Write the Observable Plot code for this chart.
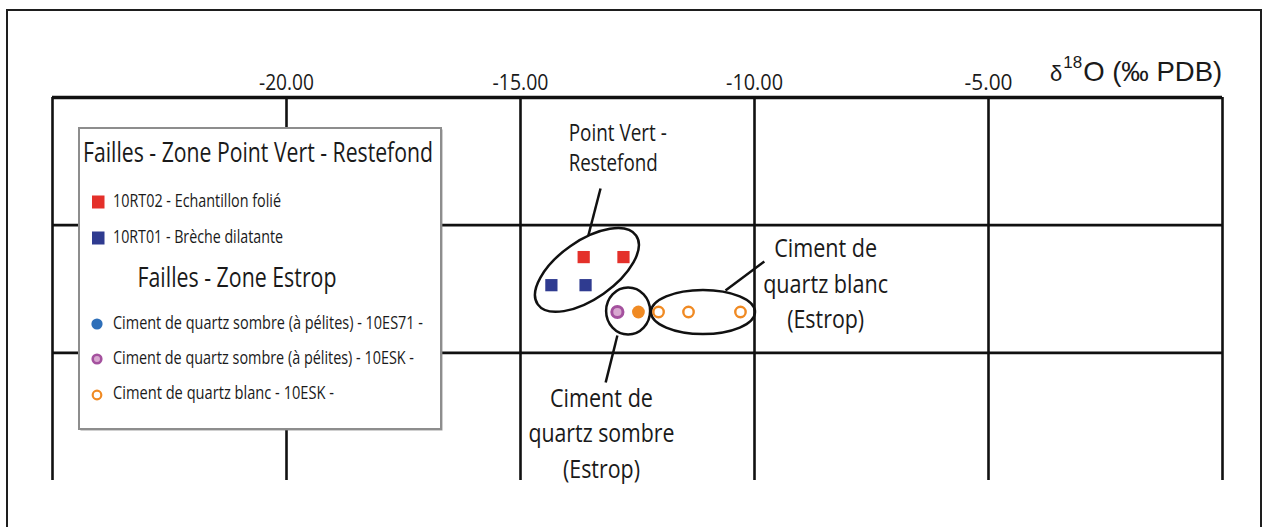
<!DOCTYPE html>
<html><head><meta charset="utf-8">
<script src="https://cdn.jsdelivr.net/npm/d3@7"></script>
<script src="https://cdn.jsdelivr.net/npm/@observablehq/plot@0.6"></script>
<style>
body{margin:0;background:#fff;}
#wrap{position:relative;width:1266px;height:527px;overflow:hidden;background:#fff;}
#frame{position:absolute;left:6px;top:9px;width:1256px;height:600px;border:2px solid #1e1e1e;box-sizing:border-box;}
#chart{position:absolute;left:0;top:0;}
#overlay{position:absolute;left:0;top:0;}
</style>
</head><body>
<div id="wrap"><div id="frame"></div><div id="chart"></div><svg id="overlay" width="1266" height="527"></svg></div>
<script>
// ---- data ----
const xTicks = [-20, -15, -10, -5];
const gridX = [-25, -20, -15, -10, -5, 0];
const gridY = [1, 2];
const sampleGroup = ["10RT02","10RT02","10RT01","10RT01","10ESK sombre","10ESK sombre (plein)","10ESK blanc","10ESK blanc","10ESK blanc"];
const d18O = [-13.65, -12.80, -14.34, -13.61, -12.93, -12.48, -12.05, -11.41, -10.30];
const yRow = [1.25, 1.25, 1.47, 1.47, 1.68, 1.68, 1.68, 1.68, 1.68];

// annotation ellipses (centre in data units, radii in px, rotation deg)
const ellCx = [-13.57, -12.69, -11.09];
const ellCy = [1.355, 1.676, 1.684];
const ellRx = [60, 22, 52];
const ellRy = [29, 23.5, 22];
const ellRot = [-35, 0, 0];
// leader lines
const leadX1 = [-13.55, -12.93, -10.62];
const leadY1 = [1.081, 1.864, 1.512];
const leadX2 = [-13.29, -13.18, -9.79];
const leadY2 = [0.713, 2.232, 1.285];
// annotation label lines
const annLines = ["Point Vert -", "Restefond", "Ciment de", "quartz sombre", "(Estrop)", "Ciment de", "quartz blanc", "(Estrop)"];
const annLineX = [-13.97, -13.97, -13.27, -13.27, -13.27, -8.48, -8.48, -8.48];
const annLineY = [0.204, 0.439, 2.287, 2.561, 2.843, 1.112, 1.394, 1.668];
const annLineAnchor = ["start", "start", "middle", "middle", "middle", "middle", "middle", "middle"];

// legend
const legendTitles = ["Failles - Zone Point Vert - Restefond", "Failles - Zone Estrop"];
const legendLabels = ["10RT02 - Echantillon folié", "10RT01 - Brèche dilatante",
  "Ciment de quartz sombre (à pélites) - 10ES71 -",
  "Ciment de quartz sombre (à pélites) - 10ESK -",
  "Ciment de quartz blanc  - 10ESK -"];
const axisLabel = ["δ", "18", "O (‰ PDB)"];

// ---- styles ----
const FONT = '"Open Sans","DejaVu Sans Condensed",sans-serif';
// target rendered widths (px) of condensed texts
const textWidth = {
  "-20.00": 55, "-15.00": 56, "-10.00": 57, "-5.00": 48,
  "Point Vert -": 98, "Restefond": 89, "Ciment de": 103, "quartz sombre": 146, "(Estrop)": 77, "quartz blanc": 125,
  "Failles - Zone Point Vert - Restefond": 350, "Failles - Zone Estrop": 199,
  "10RT02 - Echantillon folié": 168, "10RT01 - Brèche dilatante": 170,
  "Ciment de quartz sombre (à pélites) - 10ES71 -": 310,
  "Ciment de quartz sombre (à pélites) - 10ESK -": 301,
  "Ciment de quartz blanc  - 10ESK -": 221
};
const symbolOf = {"10RT02":"square","10RT01":"square","10ESK sombre":"circle","10ESK sombre (plein)":"circle","10ESK blanc":"circle"};
const fillOf = {"10RT02":"#e4302a","10RT01":"#2f3b90","10ESK sombre":"#d8a8d0","10ESK sombre (plein)":"#f08a23","10ESK blanc":"#ffffff"};
const strokeOf = {"10RT02":"none","10RT01":"none","10ESK sombre":"#a4519e","10ESK sombre (plein)":"none","10ESK blanc":"#f08a23"};
const rOf = {"10RT02":6.9,"10RT01":6.9,"10ESK sombre":5.6,"10ESK sombre (plein)":6.4,"10ESK blanc":5.2};

const pts = d18O.map((x, i) => ({x, y: yRow[i], g: sampleGroup[i]}));
const ells = ellCx.map((x, i) => ({x, y: ellCy[i], rx: ellRx[i], ry: ellRy[i], rot: ellRot[i]}));
const leads = leadX1.map((x1, i) => ({x1, y1: leadY1[i], x2: leadX2[i], y2: leadY2[i]}));
const anns = annLines.map((t, i) => ({t, x: annLineX[i], y: annLineY[i], a: annLineAnchor[i]}));

function ellipseMark(data) {
  return (index, scales) => {
    const g = d3.create("svg:g").attr("fill", "none").attr("stroke", "#111").attr("stroke-width", 2.5);
    for (const e of data) {
      const cx = scales.x(e.x), cy = scales.y(e.y);
      g.append("ellipse").attr("cx", 0).attr("cy", 0).attr("rx", e.rx).attr("ry", e.ry)
        .attr("transform", `translate(${cx},${cy}) rotate(${e.rot})`);
    }
    return g.node();
  };
}

const plot = Plot.plot({
  width: 1266, height: 527,
  marginTop: 97, marginBottom: 47, marginLeft: 52, marginRight: 44,
  x: {domain: [-25, 0]},
  y: {domain: [0, 3], reverse: true, axis: null},
  r: {type: "identity"},
  style: {fontFamily: FONT, fontSize: "22px", color: "#1a1a1a", background: "transparent", overflow: "visible"},
  marks: [
    Plot.ruleX(gridX, {stroke: "#111", strokeWidth: 2.6}),
    Plot.ruleY(gridY, {stroke: "#111", strokeWidth: 2.6}),
    Plot.ruleY([0], {stroke: "#111", strokeWidth: 3.6}),
    ellipseMark(ells),
    Plot.link(leads, {x1: "x1", y1: "y1", x2: "x2", y2: "y2", stroke: "#111", strokeWidth: 2.5}),
    Plot.dot(pts, {x: "x", y: "y", symbol: d => symbolOf[d.g], fill: d => fillOf[d.g], stroke: d => strokeOf[d.g],
      r: d => rOf[d.g], strokeWidth: d => d.g === "10ESK sombre" ? 3 : 2.4}),
    Plot.text(anns.filter(d => d.a === "start"), {x: "x", y: "y", text: "t", textAnchor: "start", lineAnchor: "top", fontSize: 24, fill: "#1a1a1a"}),
    Plot.text(anns.filter(d => d.a === "middle"), {x: "x", y: "y", text: "t", textAnchor: "middle", lineAnchor: "top", fontSize: 25, fill: "#1a1a1a"}),
    Plot.axisX(xTicks, {anchor: "top", tickSize: 0, tickPadding: 8, tickFormat: d => d.toFixed(2), label: null, fontSize: 22.5})
  ]
});
document.getElementById("chart").appendChild(plot);

function fit(sel) {
  sel.each(function () {
    const t = this.textContent;
    if (textWidth[t] != null) {
      this.setAttribute("textLength", textWidth[t]);
      this.setAttribute("lengthAdjust", "spacingAndGlyphs");
    }
  });
}
fit(d3.select(plot).selectAll("text"));

// ---- overlay: legend box + axis title ----
const ov = d3.select("#overlay");
const lg = ov.append("g").style("font-family", FONT).attr("fill", "#1a1a1a");
lg.append("rect").attr("x", 80.5).attr("y", 129.5).attr("width", 362).attr("height", 301).attr("fill", "#8a8a8a").attr("opacity", 0.8);
lg.append("rect").attr("x", 79).attr("y", 128).attr("width", 362).attr("height", 301).attr("fill", "#fff").attr("stroke", "#8d8d8d").attr("stroke-width", 2);
lg.append("text").attr("x", 258).attr("y", 162).attr("text-anchor", "middle").attr("font-size", 27.5).text(legendTitles[0]);
lg.append("text").attr("x", 237).attr("y", 287).attr("text-anchor", "middle").attr("font-size", 27.5).text(legendTitles[1]);
const itemY = [207, 243, 329, 364, 399];
legendLabels.forEach((t, i) => {
  lg.append("text").attr("x", 113).attr("y", itemY[i]).attr("font-size", 17.5).text(t);
});
fit(lg.selectAll("text"));
lg.append("rect").attr("x", 92).attr("y", 195.5).attr("width", 12.5).attr("height", 13).attr("fill", fillOf["10RT02"]);
lg.append("rect").attr("x", 92).attr("y", 231.5).attr("width", 12.5).attr("height", 13).attr("fill", fillOf["10RT01"]);
lg.append("circle").attr("cx", 97).attr("cy", 324).attr("r", 5.6).attr("fill", "#2e6fb9");
lg.append("circle").attr("cx", 97).attr("cy", 359).attr("r", 4.3).attr("fill", "#d8a8d0").attr("stroke", "#a4519e").attr("stroke-width", 2.6);
lg.append("circle").attr("cx", 97).attr("cy", 395).attr("r", 4.3).attr("fill", "#fff").attr("stroke", "#f08a23").attr("stroke-width", 2.2);

const at = ov.append("text").attr("x", 1050).attr("y", 81).attr("fill", "#1a1a1a").style("font-family", '"Liberation Sans",Arial,sans-serif');
at.append("tspan").attr("font-size", 22).text(axisLabel[0]);
at.append("tspan").attr("font-size", 17).attr("dy", -13).attr("dx", 1).text(axisLabel[1]);
at.append("tspan").attr("font-size", 27.5).attr("dy", 13).attr("dx", 1).text(axisLabel[2]);
</script>
</body></html>
